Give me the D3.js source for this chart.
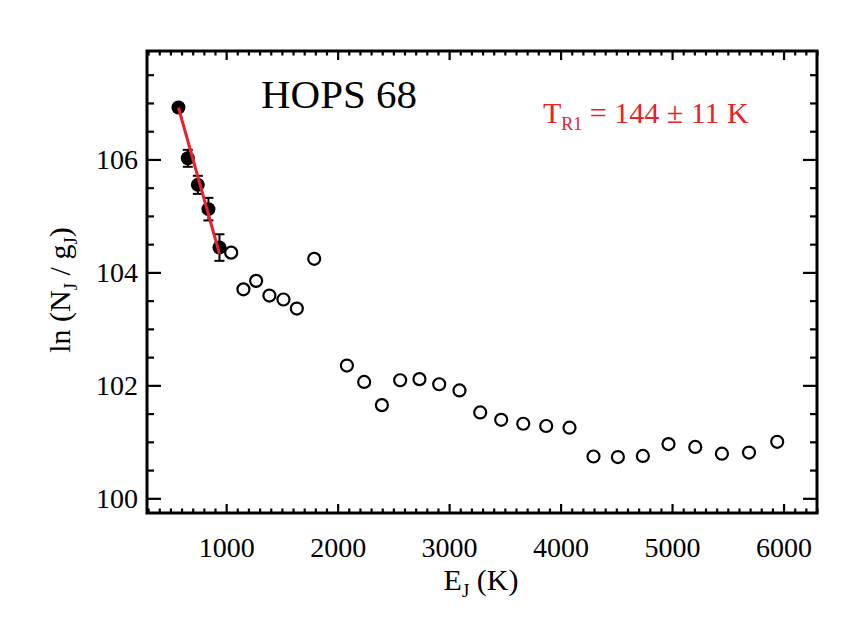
<!DOCTYPE html>
<html>
<head>
<meta charset="utf-8">
<script src="https://cdn.jsdelivr.net/npm/d3@7"></script>
<style>
	html, body { margin: 0; padding: 0; background: #fff; }
	svg { display: block; font-family: "Liberation Serif", "DejaVu Serif", serif; }
</style>
</head>
<body>
<svg id="chart" width="866" height="618"></svg>
<script>
'use strict';

// CO ladder, points used in the fit (filled)
const fitE = [572, 656, 746, 841, 940];
const fitLnN = [106.92, 106.02, 105.55, 105.12, 104.44];
const fitErr = [0.04, 0.15, 0.16, 0.20, 0.235];

// remaining points (open)
const openE = [1045, 1155, 1269, 1388, 1514, 1634, 1790, 2083, 2238, 2397, 2561, 2734, 2911,
	3093, 3279, 3467, 3665, 3871, 4080, 4295, 4514, 4738, 4968, 5208, 5447, 5690, 5943];
const openLnN = [104.35, 103.70, 103.85, 103.59, 103.52, 103.36, 104.24, 102.35, 102.06, 101.65,
	102.09, 102.11, 102.02, 101.91, 101.52, 101.39, 101.32, 101.28, 101.25, 100.74, 100.73,
	100.75, 100.96, 100.91, 100.79, 100.81, 101.00];

// rotational temperature fit line
const fitLineE = [572, 940];
const fitLineLnN = [106.92, 104.33];

const xTicks = [1000, 2000, 3000, 4000, 5000, 6000];
const yTicks = [100, 102, 104, 106];

const X_RANGE = [290, 6300];
const Y_RANGE = [99.74, 107.92];

const FRAME = { left: 147, right: 817, top: 51, bottom: 513 };
const RED = "#e8212b";
const TICK_FONT = "28px";
const TITLE_FONT = "30px";
const SUB_FONT = "19px";

const svg = d3.select("#chart");

const x = d3.scaleLinear().domain(X_RANGE).range([FRAME.left, FRAME.right]);
const y = d3.scaleLinear().domain(Y_RANGE).range([FRAME.bottom, FRAME.top]);

const xMinor = d3.range(300, 6301, 100).filter(v => v % 1000 !== 0);
const yMinor = d3.range(100, 107.9, 0.5).filter(v => v % 2 !== 0);

function styleAxis(g) {
	g.select(".domain").remove();
	g.selectAll(".tick line").attr("stroke", "#000").attr("stroke-width", 2.2);
	g.selectAll("text").attr("fill", "#000").style("font-size", TICK_FONT)
		.style("font-family", "'Liberation Serif', serif");
}

// x axes (bottom with labels, top without), ticks pointing inward
svg.append("g")
	.attr("transform", `translate(0,${FRAME.bottom})`)
	.call(d3.axisBottom(x).tickValues(xMinor).tickSize(-4.5).tickFormat(""))
	.call(styleAxis);
svg.append("g")
	.attr("transform", `translate(0,${FRAME.bottom})`)
	.call(d3.axisBottom(x).tickValues(xTicks).tickSize(-9).tickPadding(24).tickFormat(d3.format("d")))
	.call(styleAxis);
svg.append("g")
	.attr("transform", `translate(0,${FRAME.top})`)
	.call(d3.axisTop(x).tickValues(xMinor).tickSize(-4.5).tickFormat(""))
	.call(styleAxis);
svg.append("g")
	.attr("transform", `translate(0,${FRAME.top})`)
	.call(d3.axisTop(x).tickValues(xTicks).tickSize(-9).tickFormat(""))
	.call(styleAxis);

// y axes
svg.append("g")
	.attr("transform", `translate(${FRAME.left},0)`)
	.call(d3.axisLeft(y).tickValues(yMinor).tickSize(-7).tickFormat(""))
	.call(styleAxis);
svg.append("g")
	.attr("transform", `translate(${FRAME.left},0)`)
	.call(d3.axisLeft(y).tickValues(yTicks).tickSize(-14).tickPadding(9).tickFormat(d3.format("d")))
	.call(styleAxis);
svg.append("g")
	.attr("transform", `translate(${FRAME.right},0)`)
	.call(d3.axisRight(y).tickValues(yMinor).tickSize(-7).tickFormat(""))
	.call(styleAxis);
svg.append("g")
	.attr("transform", `translate(${FRAME.right},0)`)
	.call(d3.axisRight(y).tickValues(yTicks).tickSize(-14).tickFormat(""))
	.call(styleAxis);

// frame
svg.append("rect")
	.attr("x", FRAME.left)
	.attr("y", FRAME.top)
	.attr("width", FRAME.right - FRAME.left)
	.attr("height", FRAME.bottom - FRAME.top)
	.attr("fill", "none")
	.attr("stroke", "#000")
	.attr("stroke-width", 3);

// open points
svg.append("g")
	.selectAll("circle")
	.data(d3.zip(openE, openLnN))
	.join("circle")
		.attr("cx", d => x(d[0]))
		.attr("cy", d => y(d[1]))
		.attr("r", 6)
		.attr("fill", "none")
		.attr("stroke", "#000")
		.attr("stroke-width", 2.2);

// error bars for fitted points
const errG = svg.append("g").attr("stroke", "#000").attr("stroke-width", 2);
const fitData = d3.zip(fitE, fitLnN, fitErr);
errG.selectAll("line.v")
	.data(fitData)
	.join("line")
		.attr("class", "v")
		.attr("x1", d => x(d[0])).attr("x2", d => x(d[0]))
		.attr("y1", d => y(d[1] - d[2])).attr("y2", d => y(d[1] + d[2]));
errG.selectAll("line.lo")
	.data(fitData)
	.join("line")
		.attr("class", "lo")
		.attr("x1", d => x(d[0]) - 5).attr("x2", d => x(d[0]) + 5)
		.attr("y1", d => y(d[1] - d[2])).attr("y2", d => y(d[1] - d[2]));
errG.selectAll("line.hi")
	.data(fitData)
	.join("line")
		.attr("class", "hi")
		.attr("x1", d => x(d[0]) - 5).attr("x2", d => x(d[0]) + 5)
		.attr("y1", d => y(d[1] + d[2])).attr("y2", d => y(d[1] + d[2]));

// filled points
svg.append("g")
	.selectAll("circle")
	.data(fitData)
	.join("circle")
		.attr("cx", d => x(d[0]))
		.attr("cy", d => y(d[1]))
		.attr("r", 7)
		.attr("fill", "#000");

// fit line
svg.append("path")
	.datum(d3.zip(fitLineE, fitLineLnN))
	.attr("d", d3.line().x(d => x(d[0])).y(d => y(d[1])))
	.attr("fill", "none")
	.attr("stroke", RED)
	.attr("stroke-width", 3);

// source name
svg.append("text")
	.attr("x", 261)
	.attr("y", 108)
	.style("font-size", "41px")
	.attr("fill", "#000")
	.text("HOPS 68");

// temperature label
const tLabel = svg.append("text")
	.attr("x", 543)
	.attr("y", 123)
	.style("font-size", "30px")
	.attr("fill", RED);
tLabel.append("tspan").text("T");
tLabel.append("tspan").attr("dy", 7).style("font-size", "18px").text("R1");
tLabel.append("tspan").attr("dy", -7).text(" = 144 \u00b1 11 K");

// axis titles
const xTitle = svg.append("text")
	.attr("x", 481)
	.attr("y", 590)
	.attr("text-anchor", "middle")
	.style("font-size", TITLE_FONT)
	.attr("fill", "#000");
xTitle.append("tspan").text("E");
xTitle.append("tspan").attr("dy", 7).style("font-size", SUB_FONT).text("J");
xTitle.append("tspan").attr("dy", -7).text(" (K)");

const yTitle = svg.append("text")
	.attr("transform", "translate(70,290) rotate(-90)")
	.attr("text-anchor", "middle")
	.style("font-size", TITLE_FONT)
	.attr("fill", "#000");
yTitle.append("tspan").text("ln (N");
yTitle.append("tspan").attr("dy", 7).style("font-size", SUB_FONT).text("J");
yTitle.append("tspan").attr("dy", -7).text(" / g");
yTitle.append("tspan").attr("dy", 7).style("font-size", SUB_FONT).text("J");
yTitle.append("tspan").attr("dy", -7).text(")");
</script>
</body>
</html>
